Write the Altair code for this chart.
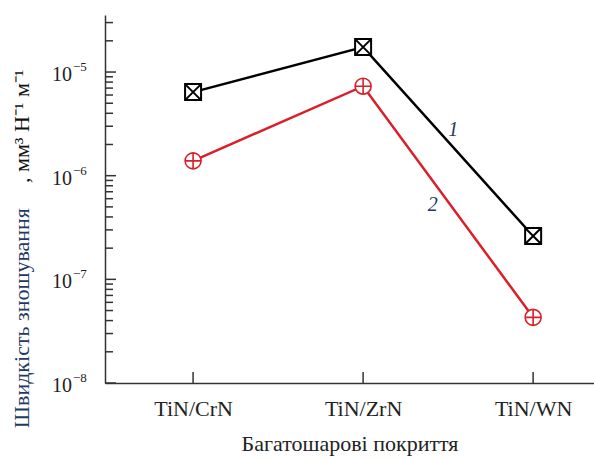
import altair as alt
import pandas as pd

# Wear rate of multilayer coatings (log scale)
coatings = ["TiN/CrN", "TiN/ZrN", "TiN/WN"]
series1 = [6.4e-6, 1.74e-5, 2.62e-7]   # curve 1
series2 = [1.39e-6, 7.3e-6, 4.3e-8]    # curve 2
decades = [-8, -7, -6, -5]
minor_ticks = [k * 10.0 ** d for d in (-8, -7, -6) for k in range(2, 10)] + [2e-5, 3e-5]

W, H = 489, 368
FONT = "Liberation Serif"
NAVY = "#1f3864"
RED = "#d9202a"

df = pd.DataFrame(
    [{"i": i, "c": c, "v": v, "s": "1"} for i, (c, v) in enumerate(zip(coatings, series1))]
    + [{"i": i, "c": c, "v": v, "s": "2"} for i, (c, v) in enumerate(zip(coatings, series2))]
)

xs = alt.Scale(domain=[-0.518, 2.358], nice=False, zero=False)
ys = alt.Scale(type="log", domain=[1e-8, 3.55e-5], nice=False)

label_expr = "+datum.value === 0 ? 'TiN/CrN' : +datum.value === 1 ? 'TiN/ZrN' : 'TiN/WN'"
x_axis = alt.Axis(
    values=[0, 1, 2], labelExpr=label_expr, ticks=False, grid=False,
    labelPadding=15, title="Багатошарові покриття", titlePadding=14,
)
y_axis = alt.Axis(labels=False, ticks=False, grid=False, title=None)
x_enc = alt.X("i:Q", scale=xs, axis=x_axis)
y_enc = alt.Y("v:Q", scale=ys, axis=y_axis)

sq_x = "M-1,-1H1V1H-1Z M-1,-1L1,1 M1,-1L-1,1"
circ_plus = "M1,0A1,1 0 1,1 -1,0A1,1 0 1,1 1,0Z M-1,0H1 M0,-1V1"

d1 = df[df.s == "1"]
d2 = df[df.s == "2"]

line1 = alt.Chart(d1).mark_line(color="black", strokeWidth=2.5).encode(x=x_enc, y=y_enc)
line2 = alt.Chart(d2).mark_line(color=RED, strokeWidth=2.5).encode(x=x_enc, y=y_enc)
pts1 = alt.Chart(d1).mark_point(shape=sq_x, size=256, filled=False, fill="white",
                                 fillOpacity=1, stroke="black", strokeWidth=2,
                                 opacity=1).encode(x=x_enc, y=y_enc)
pts2 = alt.Chart(d2).mark_point(shape=circ_plus, size=256, filled=False, fill="white",
                                 fillOpacity=1, stroke=RED, strokeWidth=1.6,
                                 opacity=1).encode(x=x_enc, y=y_enc)

# inward ticks
dec_df = pd.DataFrame({"d": decades, "v": [10.0 ** d for d in decades],
                       "e": ["\u2212" + str(-d) for d in decades]})
major = alt.Chart(dec_df).mark_rule(color="#333", strokeWidth=1.5).encode(
    y=y_enc, x=alt.value(0), x2=alt.value(11))
minor = alt.Chart(pd.DataFrame({"v": minor_ticks})).mark_rule(color="#333", strokeWidth=1.5).encode(
    y=y_enc, x=alt.value(0), x2=alt.value(8))
xticks = alt.Chart(pd.DataFrame({"i": [0, 1, 2]})).mark_rule(color="#333", strokeWidth=1.5).encode(
    x=x_enc, y=alt.value(H - 11), y2=alt.value(H))

# y tick labels 10^n
base = alt.Chart(dec_df).mark_text(font=FONT, fontSize=20, align="right", baseline="middle",
                                   color="#222", dy=3).encode(
    y=y_enc, x=alt.value(-33), text=alt.value("10"))
expo = alt.Chart(dec_df).mark_text(font=FONT, fontSize=13, align="left", baseline="middle",
                                   color="#222", dy=-5).encode(
    y=y_enc, x=alt.value(-32), text="e:N")

# curve numbers
num_df = pd.DataFrame({"i": [1.53, 1.41], "v": [2.76e-6, 5.2e-7], "t": ["1", "2"]})
nums = alt.Chart(num_df).mark_text(font=FONT, fontSize=20, fontStyle="italic", color=NAVY).encode(
    x=x_enc, y=y_enc, text="t:N")

# y title in two parts
t1 = alt.Chart(pd.DataFrame({"a": [0]})).mark_text(
    font=FONT, fontSize=22, angle=270, align="right", baseline="middle", color=NAVY).encode(
    x=alt.value(-83), y=alt.value(193), text=alt.value("Швидкість зношування"))
t2 = alt.Chart(pd.DataFrame({"a": [0]})).mark_text(
    font=FONT, fontSize=22, angle=270, align="left", baseline="middle", color="#111").encode(
    x=alt.value(-83), y=alt.value(168), text=alt.value(", мм³ Н⁻¹ м⁻¹"))

chart = alt.layer(
    line1, line2, pts1, pts2, major, minor, xticks, base, expo, nums, t1, t2
).properties(
    width=W, height=H,
    padding={"left": 105, "top": 15, "right": 0, "bottom": 76},
    autosize=alt.AutoSizeParams(type="none"),
    background="white",
).configure_view(
    stroke=None
).configure_axis(
    domainColor="#333", domainWidth=1.5,
    labelFont=FONT, labelFontSize=22, labelColor="#222",
    titleFont=FONT, titleFontSize=22, titleFontWeight="normal", titleColor="#222",
)

chart.save("out.html", embed_options={"renderer": "svg", "actions": False})
